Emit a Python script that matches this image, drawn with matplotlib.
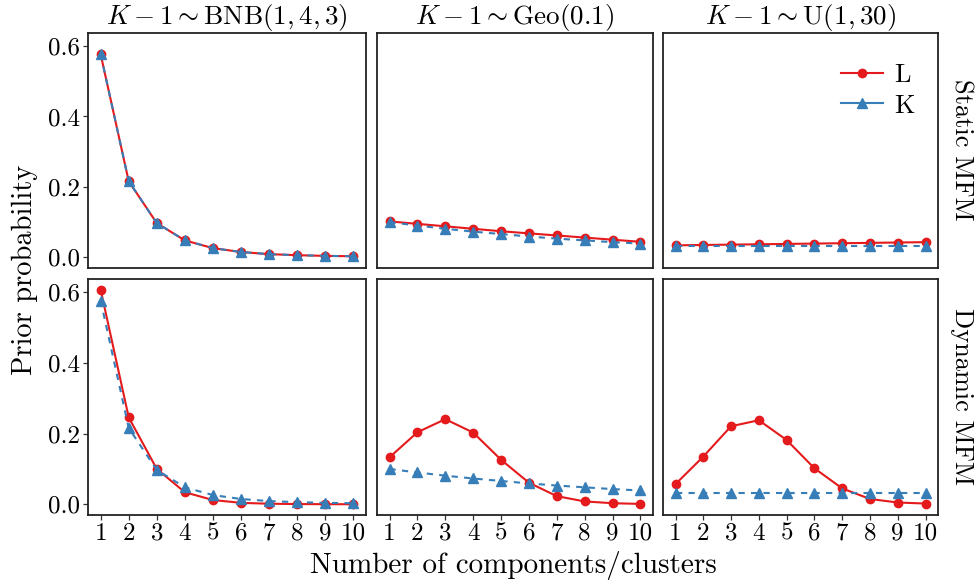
import numpy as np
import matplotlib
matplotlib.use("Agg")
import matplotlib.pyplot as plt
from matplotlib.lines import Line2D

plt.rcParams['font.family'] = 'serif'
plt.rcParams['font.serif'] = ['cmr10', 'DejaVu Serif']
plt.rcParams['mathtext.fontset'] = 'cm'
plt.rcParams['axes.formatter.use_mathtext'] = True

# number of components / clusters
k = np.arange(1, 11)

col_titles = [r"$K-1\sim\mathrm{BNB}(1,4,3)$",
              r"$K-1\sim\mathrm{Geo}(0.1)$",
              r"$K-1\sim\mathrm{U}(1,30)$"]
row_titles = ["Static MFM", "Dynamic MFM"]

# static MFM
static_L_bnb = [0.577, 0.216, 0.097, 0.048, 0.026, 0.015, 0.009, 0.006, 0.004, 0.003]
static_K_bnb = [0.577, 0.216, 0.097, 0.048, 0.026, 0.015, 0.009, 0.006, 0.004, 0.003]
static_L_geo = [0.102, 0.095, 0.088, 0.081, 0.074, 0.068, 0.062, 0.056, 0.050, 0.044]
static_K_geo = [0.100, 0.090, 0.081, 0.073, 0.066, 0.059, 0.053, 0.048, 0.043, 0.039]
static_L_unif = [0.034, 0.035, 0.036, 0.037, 0.038, 0.039, 0.040, 0.041, 0.042, 0.043]
static_K_unif = [0.033, 0.033, 0.033, 0.033, 0.033, 0.033, 0.033, 0.033, 0.033, 0.033]

# dynamic MFM
dyn_L_bnb = [0.608, 0.246, 0.100, 0.034, 0.012, 0.004, 0.0015, 0.0006, 0.0002, 0.0001]
dyn_K_bnb = [0.577, 0.216, 0.097, 0.048, 0.026, 0.015, 0.009, 0.006, 0.004, 0.003]
dyn_L_geo = [0.133, 0.204, 0.241, 0.203, 0.126, 0.061, 0.023, 0.008, 0.003, 0.001]
dyn_K_geo = [0.100, 0.090, 0.081, 0.073, 0.066, 0.059, 0.053, 0.048, 0.043, 0.039]
dyn_L_unif = [0.057, 0.135, 0.221, 0.238, 0.182, 0.102, 0.045, 0.015, 0.005, 0.002]
dyn_K_unif = [0.033, 0.033, 0.033, 0.033, 0.033, 0.033, 0.033, 0.033, 0.033, 0.033]

L_data = [[static_L_bnb, static_L_geo, static_L_unif],
          [dyn_L_bnb, dyn_L_geo, dyn_L_unif]]
K_data = [[static_K_bnb, static_K_geo, static_K_unif],
          [dyn_K_bnb, dyn_K_geo, dyn_K_unif]]

red = "#E41A1C"
blue = "#377EB8"

fig = plt.figure(figsize=(9.75, 5.88), dpi=100)

lefts = [88/975, 377/975, 663/975]
widths = [278/975, 276/975, 275/975]
bottoms = [(588-268)/588, (588-515)/588]
heights = [235.3/588, 236/588]

for r in range(2):
    for c in range(3):
        ax = fig.add_axes([lefts[c], bottoms[r], widths[c], heights[r]])
        ax.plot(k, L_data[r][c], color=red, lw=1.5, marker="o", ms=6, zorder=3)
        ax.plot(k, K_data[r][c], color=blue, lw=1.5, ls=(0, (3, 3)), marker="^", ms=6.5, zorder=4)
        ax.set_xlim(0.55, 10.45)
        ax.set_ylim(-0.0304, 0.638)
        ax.set_yticks([0.0, 0.2, 0.4, 0.6])
        ax.set_xticks(k)
        for s in ax.spines.values():
            s.set_linewidth(1.3)
            s.set_color("#222222")
        ax.tick_params(length=3.5, width=0.9, color="#333333", labelsize=18, pad=2)
        if c == 0:
            ax.set_yticklabels(["0.0", "0.2", "0.4", "0.6"])
        else:
            ax.tick_params(axis="y", left=False, labelleft=False)
        if r == 0:
            ax.tick_params(axis="x", bottom=False, labelbottom=False)
            ax.set_title(col_titles[c], fontsize=19.5, pad=4)
        else:
            ax.set_xticklabels([str(i) for i in k])
        if c == 2:
            ax.text(1.085, 0.5, row_titles[r], transform=ax.transAxes, rotation=270,
                    ha="center", va="center", fontsize=19)
        if r == 0 and c == 2:
            handles = [Line2D([], [], color=red, lw=1.5, marker="o", ms=6),
                       Line2D([], [], color=blue, lw=1.5, marker="^", ms=6.5)]
            ax.legend(handles, ["L", "K"], loc="upper right", frameon=False,
                      fontsize=19, handlelength=1.6, handletextpad=0.4,
                      labelspacing=0.25, bbox_to_anchor=(1.0, 0.97))

fig.text(25/975, 1 - 270/588, "Prior probability", rotation=90,
         ha="center", va="center", fontsize=20.5)
fig.text(513/975, 1 - 565/588, "Number of components/clusters",
         ha="center", va="center", fontsize=21)

fig.savefig("out.png", dpi=100)
